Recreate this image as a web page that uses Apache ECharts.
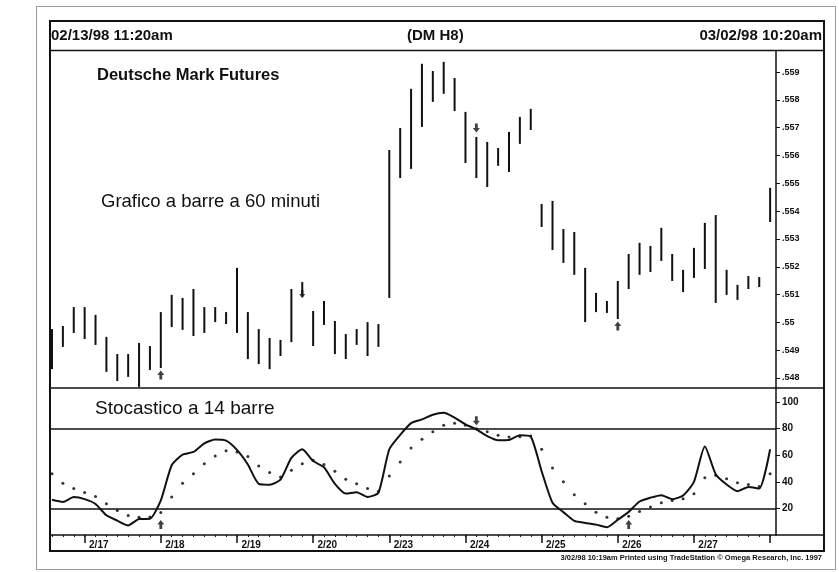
<!DOCTYPE html>
<html>
<head>
<meta charset="utf-8">
<title>Deutsche Mark Futures (DM H8)</title>
<script src="https://cdn.jsdelivr.net/npm/echarts@6/dist/echarts.min.js"></script>
<style>
  html, body { margin: 0; padding: 0; background: #fff; }
  #chart { width: 839px; height: 572px; }
</style>
</head>
<body>
<div id="chart"></div>
<script>
// 60-minute bars, DM H8, 02/13/98 11:20am - 03/02/98 10:20am (bar index 0..66)
const barHigh = [
  .54976, .54987, .55055, .55055, .55027, .54948, .54886, .54886, .54926, .54915,
  .55037, .55099, .55088, .55120, .55055, .55055, .55037, .55196, .55037, .54976,
  .54944, .54937, .55120, .55145, .55041, .55077, .55005, .54958, .54976, .55001,
  .54994, .55620, .55699, .55840, .55930, .55904, .55937, .55879, .55757, .55667,
  .55649, .55627, .55685, .55739, .55768, .55426, .55437, .55336, .55325, .55196,
  .55106, .55077, .55149, .55246, .55286, .55275, .55340, .55246, .55189, .55268,
  .55358, .55386, .55189, .55135, .55167, .55163, .55484
];
const barLow = [
  .54832, .54912, .54962, .54940, .54919, .54822, .54789, .54804, .54768, .54829,
  .54836, .54983, .54973, .54951, .54962, .55001, .54994, .54962, .54868, .54850,
  .54832, .54879, .54929, .55091, .54915, .54991, .54886, .54868, .54919, .54879,
  .54912, .55088, .55519, .55552, .55703, .55793, .55822, .55760, .55573, .55519,
  .55487, .55563, .55541, .55642, .55692, .55343, .55260, .55214, .55171, .55001,
  .55037, .55034, .55012, .55120, .55171, .55181, .55221, .55149, .55109, .55160,
  .55192, .55070, .55099, .55081, .55120, .55127, .55361
];
// 14-bar stochastic: %K (line) and %D (dots)
const stochK = [
  26.5, 24.9, 28.5, 27.0, 23.3, 14.8, 10.8, 7.2, 12.0, 12.2,
  26.0, 52.5, 60.5, 62.5, 69.0, 71.8, 71.0, 64.0, 53.0, 38.5,
  37.9, 41.6, 58.0, 64.5, 55.6, 51.0, 38.5, 31.2, 32.2, 28.6,
  31.8, 64.5, 75.3, 84.2, 87.0, 90.5, 91.9, 88.3, 83.3, 79.5,
  74.4, 71.3, 71.5, 75.1, 74.0, 48.0, 24.3, 17.2, 10.6, 9.1,
  7.8, 5.9, 11.5, 17.4, 25.2, 28.1, 30.0, 26.9, 29.7, 40.0,
  66.5, 45.7, 38.0, 33.0, 36.1, 35.0, 64.5
];
const stochD = [
  46.0, 39.0, 35.0, 32.0, 29.0, 23.5, 18.5, 14.7, 13.4, 13.5,
  17.0, 28.5, 39.0, 46.0, 53.7, 59.5, 63.3, 62.5, 59.0, 52.0,
  47.0, 43.6, 48.7, 53.7, 56.2, 53.0, 48.0, 42.0, 38.6, 35.0,
  33.0, 44.4, 55.0, 65.5, 72.0, 77.6, 82.6, 84.0, 82.6, 80.0,
  77.6, 75.0, 73.8, 74.0, 74.5, 64.5, 50.4, 40.0, 30.3, 23.5,
  17.2, 13.4, 12.2, 14.2, 17.7, 21.0, 24.3, 26.0, 27.3, 31.0,
  43.0, 45.0, 42.4, 39.4, 38.0, 36.5, 46.0
];
const dayLabels = ['2/17', '2/18', '2/19', '2/20', '2/23', '2/24', '2/25', '2/26', '2/27'];
const dayStarts = [3, 10, 17, 24, 31, 38, 45, 52, 59, 66];   // first bar of each session
const priceTicks = [.548, .549, .550, .551, .552, .553, .554, .555, .556, .557, .558, .559];
const stochTicks = [20, 40, 60, 80, 100];
const stochLevels = [80, 20];
const buyBars = [10, 52];     // buy arrows under the bar
const sellBars = [39];        // sell arrows over the bar
const sellOnBar = [23];       // sell arrow drawn on the bar's low end
const stochBuy = [10, 53];
const stochSell = [39];

const INK = '#111';
const FONT = '"Liberation Sans", Arial, sans-serif';
const barIndex = barHigh.map((_, i) => i);
const upArrow = 'path://M5,0 L10,5 L7,5 L7,10 L3,10 L3,5 L0,5 Z';
const X_MIN = -0.184, X_MAX = 66.54;

const chart = echarts.init(document.getElementById('chart'), null, { renderer: 'canvas' });

const option = {
  animation: false,
  backgroundColor: '#fff',
  grid: [
    { left: 50, top: 51, width: 726, height: 337 },
    { left: 50, top: 388, width: 726, height: 147 }
  ],
  xAxis: [
    { gridIndex: 0, type: 'value', min: X_MIN, max: X_MAX, show: false },
    {
      gridIndex: 1, type: 'value', min: X_MIN, max: X_MAX, position: 'bottom',
      axisLine: { show: true, onZero: false, lineStyle: { color: INK, width: 1.5 } },
      splitLine: { show: false },
      axisTick: { show: true, customValues: dayStarts, length: 8, lineStyle: { color: INK, width: 1.5 } },
      axisLabel: {
        show: true,
        customValues: dayLabels.map((_, k) => dayStarts[k] + 1.3),
        formatter: v => dayLabels[dayStarts.indexOf(Math.round(v - 1.3))] || '',
        margin: 5, fontSize: 10, fontWeight: 'bold', fontFamily: FONT, color: INK
      }
    },
    {
      gridIndex: 1, type: 'value', min: X_MIN, max: X_MAX, position: 'bottom',
      axisLine: { show: false, onZero: false }, splitLine: { show: false },
      axisTick: { show: true, customValues: barIndex, length: 2, lineStyle: { color: INK, width: 1 } },
      axisLabel: { show: false }
    }
  ],
  yAxis: [
    {
      gridIndex: 0, type: 'value', position: 'right', min: .54764, max: .55976, scale: true,
      axisLine: { show: true, onZero: false, lineStyle: { color: INK, width: 1.5 } },
      splitLine: { show: false },
      axisTick: { show: true, customValues: priceTicks, length: 4, lineStyle: { color: INK } },
      axisLabel: {
        show: true, customValues: priceTicks, margin: 6,
        formatter: v => parseFloat(v.toFixed(3)).toString().replace(/^0/, ''),
        fontSize: 9, fontWeight: 'bold', fontFamily: FONT, color: INK
      }
    },
    {
      gridIndex: 1, type: 'value', position: 'right', min: 0, max: 110.6,
      axisLine: { show: true, onZero: false, lineStyle: { color: INK, width: 1.5 } },
      splitLine: { show: false },
      axisTick: { show: true, customValues: stochTicks, length: 4, lineStyle: { color: INK } },
      axisLabel: {
        show: true, customValues: stochTicks, margin: 6,
        fontSize: 10, fontWeight: 'bold', fontFamily: FONT, color: INK
      }
    }
  ],
  series: [
    {
      name: 'DM H8', type: 'custom', xAxisIndex: 0, yAxisIndex: 0,
      data: barIndex.map(i => [i, barHigh[i], barLow[i]]),
      encode: { x: 0, y: [1, 2] },
      renderItem: (params, api) => {
        const x = api.value(0);
        const hi = api.coord([x, api.value(1)]);
        const lo = api.coord([x, api.value(2)]);
        return {
          type: 'line',
          shape: { x1: hi[0], y1: hi[1], x2: lo[0], y2: lo[1] },
          style: { stroke: INK, lineWidth: 2 }
        };
      }
    },
    {
      name: 'buy', type: 'scatter', xAxisIndex: 0, yAxisIndex: 0,
      data: buyBars.map(i => [i, barLow[i]]),
      symbol: upArrow, symbolSize: [7, 9], symbolOffset: [0, 7],
      itemStyle: { color: INK }
    },
    {
      name: 'sell', type: 'scatter', xAxisIndex: 0, yAxisIndex: 0,
      data: sellBars.map(i => [i, barHigh[i]]),
      symbol: upArrow, symbolRotate: 180, symbolSize: [7, 9], symbolOffset: [0, -9],
      itemStyle: { color: INK }
    },
    {
      name: 'sell-bar', type: 'scatter', xAxisIndex: 0, yAxisIndex: 0,
      data: sellOnBar.map(i => [i, barLow[i]]),
      symbol: upArrow, symbolRotate: 180, symbolSize: [6, 8], symbolOffset: [0, -3],
      itemStyle: { color: INK }
    },
    {
      name: '%K', type: 'line', xAxisIndex: 1, yAxisIndex: 1,
      data: barIndex.map(i => [i, stochK[i]]),
      showSymbol: false, smooth: 0.2,
      lineStyle: { color: INK, width: 2 },
      markLine: {
        silent: true, symbol: 'none', animation: false,
        label: { show: false },
        lineStyle: { color: INK, width: 1.5, type: 'solid' },
        data: stochLevels.map(v => ({ yAxis: v }))
      }
    },
    {
      name: '%D', type: 'scatter', xAxisIndex: 1, yAxisIndex: 1,
      data: barIndex.map(i => [i, stochD[i]]),
      symbol: 'circle', symbolSize: 3,
      itemStyle: { color: '#000' }
    },
    {
      name: 'stoch-buy', type: 'scatter', xAxisIndex: 1, yAxisIndex: 1,
      data: stochBuy.map(i => [i, stochLevels[1]]),
      symbol: upArrow, symbolSize: [7, 9], symbolOffset: [0, 16],
      itemStyle: { color: INK }
    },
    {
      name: 'stoch-sell', type: 'scatter', xAxisIndex: 1, yAxisIndex: 1,
      data: stochSell.map(i => [i, stochLevels[0]]),
      symbol: upArrow, symbolRotate: 180, symbolSize: [7, 9], symbolOffset: [0, -8],
      itemStyle: { color: INK }
    }
  ],
  graphic: [
    // page border
    { type: 'rect', shape: { x: 36.5, y: 6.5, width: 799, height: 563 }, style: { fill: 'none', stroke: '#9a9a9a', lineWidth: 1 }, silent: true },
    // chart frame
    { type: 'rect', shape: { x: 50, y: 21, width: 774, height: 530 }, style: { fill: 'none', stroke: INK, lineWidth: 2 }, silent: true },
    { type: 'line', shape: { x1: 50, y1: 50.5, x2: 824, y2: 50.5 }, style: { stroke: INK, lineWidth: 1.5 }, silent: true },
    { type: 'line', shape: { x1: 50, y1: 388, x2: 824, y2: 388 }, style: { stroke: INK, lineWidth: 1.5 }, silent: true },
    { type: 'line', shape: { x1: 776, y1: 535, x2: 824, y2: 535 }, style: { stroke: INK, lineWidth: 1.5 }, silent: true },
    // header
    { type: 'text', left: 51, top: 28, style: { text: '02/13/98 11:20am', font: 'bold 15px ' + FONT, fill: INK } },
    { type: 'text', left: 407, top: 28, style: { text: '(DM H8)', font: 'bold 15px ' + FONT, fill: INK } },
    { type: 'text', right: 17, top: 28, style: { text: '03/02/98 10:20am', font: 'bold 15px ' + FONT, fill: INK } },
    // panel captions
    { type: 'text', left: 97, top: 67, style: { text: 'Deutsche Mark Futures', font: 'bold 16.5px ' + FONT, fill: INK } },
    { type: 'text', left: 101, top: 192, style: { text: 'Grafico a barre a 60 minuti', font: '18.5px ' + FONT, fill: INK } },
    { type: 'text', left: 95, top: 399, style: { text: 'Stocastico a 14 barre', font: '19px ' + FONT, fill: INK } },
    // footer
    { type: 'text', right: 17, top: 554, style: { text: '3/02/98 10:19am Printed using TradeStation \u00a9 Omega Research, Inc. 1997', font: 'bold 7.5px ' + FONT, fill: INK } }
  ]
};

chart.setOption(option);
</script>
</body>
</html>
